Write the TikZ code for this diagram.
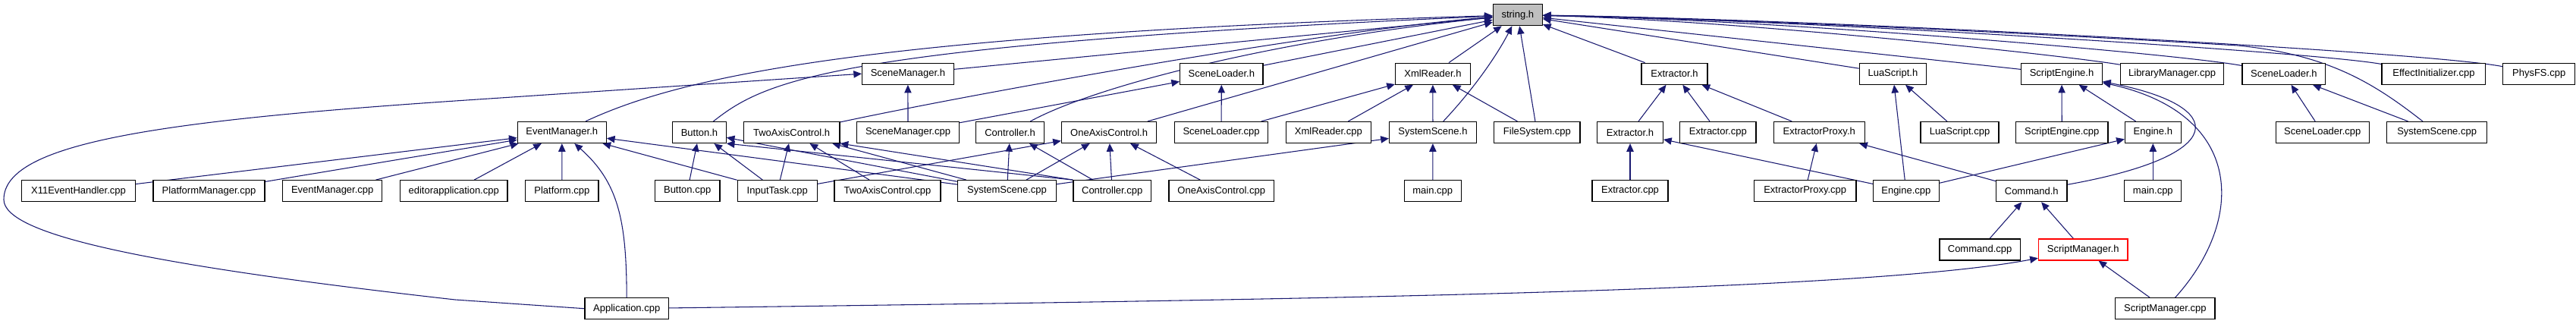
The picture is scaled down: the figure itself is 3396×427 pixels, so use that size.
\documentclass[tikz,border=0pt]{standalone}
\usepackage{fontspec}
\setmainfont{Liberation Sans}
\usetikzlibrary{arrows.meta}
\definecolor{dxedge}{HTML}{191970}
\definecolor{dxgray}{HTML}{BFBFBF}
\pgfdeclarelayer{bg}
\pgfsetlayers{bg,main}
\newcommand\nd[6][]{\node[box,#1,minimum width={(#4-#3)*0.75pt}] (#2) at ({(#3+#4)/2},#5) {#6};}
\begin{document}
\begin{tikzpicture}[x=0.75pt,y=-0.75pt,
  box/.style={draw=black,line width=0.9pt,fill=white,inner sep=0pt,minimum height=21pt,font=\fontsize{9.75pt}{11pt}\selectfont},
  dep/.style={draw=dxedge,line width=0.8pt,-{Triangle[length=8pt,width=7pt]}}]
\useasboundingbox (0,0) rectangle (3396,427);
% row 0
\nd[fill=dxgray]{string}{1968.3}{2033.3}{19.7}{string.h}
% row 1
\nd{scenemgrh}{1136.6}{1257.2}{97.2}{SceneManager.h}
\nd{sldrhA}{1555.6}{1665}{97.2}{SceneLoader.h}
\nd{xmlh}{1839.5}{1938.3}{97.2}{XmlReader.h}
\nd{extrhA}{2164}{2251}{97.2}{Extractor.h}
\nd{luah}{2451.3}{2539.5}{97.2}{LuaScript.h}
\nd{sengh}{2664.7}{2771.3}{97.2}{ScriptEngine.h}
\nd{libmgr}{2795.3}{2931.8}{97.2}{LibraryManager.cpp}
\nd{sldrhB}{2956}{3065.8}{97.2}{SceneLoader.h}
\nd{effinit}{3140}{3276.8}{97.2}{EffectInitializer.cpp}
\nd{physfs}{3299.8}{3394.5}{97.2}{PhysFS.cpp}
% row 2
\nd{evmgrh}{682.3}{799.3}{174.5}{EventManager.h}
\nd{buttonh}{886.8}{957.2}{174.5}{Button.h}
\nd{twoaxh}{980.2}{1107}{174.5}{TwoAxisControl.h}
\nd{scenemgrcpp}{1129.5}{1264.5}{174.5}{SceneManager.cpp}
\nd{ctrlh}{1286.8}{1376.2}{174.5}{Controller.h}
\nd{oneaxh}{1399.4}{1524.8}{174.5}{OneAxisControl.h}
\nd{sldrcppA}{1548.7}{1671.5}{174.5}{SceneLoader.cpp}
\nd{xmlcpp}{1695.3}{1807.4}{174.5}{XmlReader.cpp}
\nd{sysscnh}{1831.5}{1946.4}{174.5}{SystemScene.h}
\nd{fscpp}{1969.7}{2083}{174.5}{FileSystem.cpp}
\nd{extrhB}{2105.6}{2192.4}{174.5}{Extractor.h}
\nd{extrcppA}{2214.6}{2315}{174.5}{Extractor.cpp}
\nd{extrproxh}{2338.4}{2458.1}{174.5}{ExtractorProxy.h}
\nd{luacpp}{2532}{2635}{174.5}{LuaScript.cpp}
\nd{sengcpp}{2657.5}{2779}{174.5}{ScriptEngine.cpp}
\nd{engineh}{2801.4}{2875.2}{174.5}{Engine.h}
\nd{sldrcppB}{3000.3}{3123.2}{174.5}{SceneLoader.cpp}
\nd{sysscncppB}{3146.8}{3278.4}{174.5}{SystemScene.cpp}
% row 3
\nd{x11}{28.7}{178.3}{251.7}{X11EventHandler.cpp}
\nd{platmgr}{202}{349}{251.7}{PlatformManager.cpp}
\nd{evmgrcpp}{372.8}{503.6}{251.7}{EventManager.cpp}
\nd{editor}{527.4}{669}{251.7}{editorapplication.cpp}
\nd{platcpp}{692.8}{789}{251.7}{Platform.cpp}
\nd{buttoncpp}{863.4}{948.9}{251.7}{Button.cpp}
\nd{inputcpp}{972.2}{1077.4}{251.7}{InputTask.cpp}
\nd{twoaxcpp}{1100}{1240}{251.7}{TwoAxisControl.cpp}
\nd{sysscncppA}{1262.7}{1392.3}{251.7}{SystemScene.cpp}
\nd{ctrlcpp}{1415}{1517.4}{251.7}{Controller.cpp}
\nd{oneaxcpp}{1541}{1679.5}{251.7}{OneAxisControl.cpp}
\nd{maincppA}{1851.4}{1926.1}{251.7}{main.cpp}
\nd{extrcppB}{2099}{2199}{251.7}{Extractor.cpp}
\nd{extrproxcpp}{2312.3}{2447}{251.7}{ExtractorProxy.cpp}
\nd{enginecpp}{2469.6}{2556.1}{251.7}{Engine.cpp}
\nd{cmdh}{2631.5}{2725}{251.7}{Command.h}
\nd{maincppB}{2800.8}{2875.8}{251.7}{main.cpp}
% row 4
\nd{cmdcpp}{2556.9}{2663.3}{329}{Command.cpp}
\nd[draw=red]{smh}{2687.4}{2805}{329}{ScriptManager.h}
% row 5
\nd{appcpp}{770.9}{881.5}{406.7}{Application.cpp}
\nd{smcpp}{2788.8}{2920}{406.7}{ScriptManager.cpp}

\begin{pgfonlayer}{bg}
\fill[white] (0,0) rectangle (3396,427);
% into string.h from the left
\draw[dep] (evmgrh) .. controls (900,100) and (1150,45) .. (string);
\draw[dep] (buttonh) .. controls (1010,105) and (1100,60) .. (string);
\draw[dep] (scenemgrh) -- (string);
\draw[dep] (twoaxh) .. controls (1300,120) and (1750,40) .. (string);
\draw[dep] (ctrlh) .. controls (1450,110) and (1700,50) .. (string);
\draw[dep] (oneaxh) -- (string);
\draw[dep] (sldrhA) -- (string);
\draw[dep] (xmlh) -- (string);
\draw[dep] (sysscnh) .. controls (1945,115) and (1975,70) .. (string);
\draw[dep] (fscpp) -- (string);
% into string.h from the right
\draw[dep] (extrhA) -- (string);
\draw[dep] (luah) -- (string);
\draw[dep] (sengh) -- (string);
\draw[dep] (libmgr) .. controls (2730,74) and (2300,27) .. (string);
\draw[dep] (sldrhB) .. controls (2880,72) and (2350,26) .. (string);
\draw[dep] (sysscncppB) .. controls (3130,110) and (3070,72) .. (2950,60) .. controls (2700,45) and (2300,25) .. (string);
\draw[dep] (effinit) .. controls (3050,68) and (2350,25) .. (string);
\draw[dep] (physfs) .. controls (3200,68) and (2400,25) .. (string);
% EventManager.h
\draw[dep] (x11) -- (evmgrh);
\draw[dep] (platmgr) -- (evmgrh);
\draw[dep] (evmgrcpp) -- (evmgrh);
\draw[dep] (editor) -- (evmgrh);
\draw[dep] (platcpp) -- (evmgrh);
\draw[dep] (appcpp) .. controls (826,290) and (815,240) .. (evmgrh);
\draw[dep] (inputcpp) -- (evmgrh);
\draw[dep] (sysscncppA) -- (evmgrh);
% Button.h
\draw[dep] (buttoncpp) -- (buttonh);
\draw[dep] (inputcpp) -- (buttonh);
\draw[dep] (sysscncppA) -- (buttonh);
\draw[dep] (ctrlcpp.north west) -- (buttonh.south east);
% TwoAxisControl.h
\draw[dep] (inputcpp) -- (twoaxh);
\draw[dep] (twoaxcpp) -- (twoaxh);
\draw[dep] (sysscncppA) -- (twoaxh);
\draw[dep] (ctrlcpp.north west) -- (twoaxh.south east);
% Controller.h
\draw[dep] (sysscncppA) -- (ctrlh);
\draw[dep] (ctrlcpp) -- (ctrlh);
% OneAxisControl.h
\draw[dep] (inputcpp) -- (oneaxh);
\draw[dep] (sysscncppA) -- (oneaxh);
\draw[dep] (ctrlcpp) -- (oneaxh);
\draw[dep] (oneaxcpp) -- (oneaxh);
% SceneManager.h
\draw[dep] (scenemgrcpp) -- (scenemgrh);
\draw[dep] (appcpp.west) -- (600,395) .. controls (200,350) and (5,310) .. (5,263) .. controls (5,190) and (200,160) .. (600,133) -- (scenemgrh.west);
% SceneLoader.h (first)
\draw[dep] (sldrcppA) -- (sldrhA);
\draw[dep] (scenemgrcpp) -- (sldrhA);
% XmlReader.h
\draw[dep] (sldrcppA) -- (xmlh);
\draw[dep] (xmlcpp) -- (xmlh);
\draw[dep] (sysscnh) -- (xmlh);
\draw[dep] (fscpp) -- (xmlh);
% SystemScene.h
\draw[dep] (maincppA) -- (sysscnh);
\draw[dep] (sysscncppA) -- (sysscnh);
% Extractor.h
\draw[dep] (extrhB) -- (extrhA);
\draw[dep] (extrcppA) -- (extrhA);
\draw[dep] (extrproxh) -- (extrhA);
\draw[dep] (extrcppB) -- (extrhB);
\draw[dep] (enginecpp) -- (extrhB);
% ExtractorProxy.h
\draw[dep] (extrproxcpp) -- (extrproxh);
\draw[dep] (cmdh) -- (extrproxh);
% LuaScript.h
\draw[dep] (enginecpp) -- (luah);
\draw[dep] (luacpp) -- (luah);
% ScriptEngine.h
\draw[dep] (sengcpp) -- (sengh);
\draw[dep] (engineh) -- (sengh);
\draw[dep] (cmdh) .. controls (2940,205) and (2940,140) .. (sengh);
\draw[dep] (smcpp) .. controls (2960,290) and (2960,150) .. (sengh);
% Engine.h
\draw[dep] (enginecpp) -- (engineh);
\draw[dep] (maincppB) -- (engineh);
% Command.h
\draw[dep] (cmdcpp) -- (cmdh);
\draw[dep] (smh) -- (cmdh);
% ScriptManager.h
\draw[dep] (smcpp) -- (smh);
\draw[dep] (appcpp) .. controls (1700,395) and (2450,385) .. (smh);
% SceneLoader.h (second)
\draw[dep] (sldrcppB) -- (sldrhB);
\draw[dep] (sysscncppB) -- (sldrhB);
\end{pgfonlayer}
\end{tikzpicture}
\end{document}
